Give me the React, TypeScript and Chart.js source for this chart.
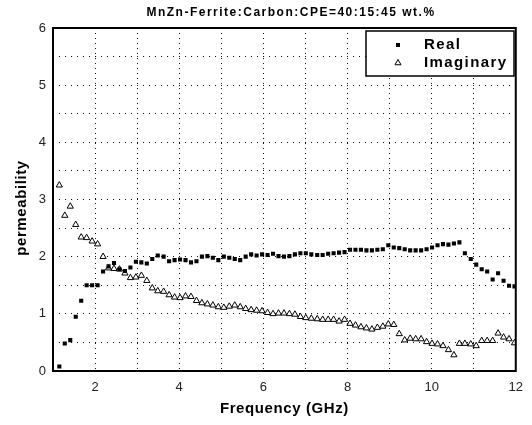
import { useEffect, useRef } from 'react';
import { Chart, registerables } from 'chart.js';

Chart.register(...registerables);

const TITLE = 'MnZn-Ferrite:Carbon:CPE=40:15:45 wt.%';
const X_TITLE = 'Frequency (GHz)';
const Y_TITLE = 'permeability';
const SERIES_NAMES = ['Real', 'Imaginary'];

const frequency = [
  1.15, 1.28, 1.41, 1.54, 1.67, 1.8, 1.93, 2.06, 2.19, 2.32,
  2.45, 2.58, 2.71, 2.84, 2.97, 3.1, 3.23, 3.36, 3.49, 3.63,
  3.76, 3.89, 4.02, 4.15, 4.28, 4.41, 4.54, 4.67, 4.8, 4.93,
  5.06, 5.19, 5.32, 5.45, 5.58, 5.71, 5.84, 5.97, 6.1, 6.23,
  6.36, 6.49, 6.62, 6.75, 6.88, 7.01, 7.14, 7.28, 7.41, 7.54,
  7.67, 7.8, 7.93, 8.06, 8.19, 8.32, 8.45, 8.58, 8.71, 8.84,
  8.97, 9.1, 9.23, 9.36, 9.49, 9.62, 9.75, 9.88, 10.01, 10.14,
  10.27, 10.4, 10.53, 10.66, 10.79, 10.93, 11.06, 11.19, 11.32, 11.45,
  11.58, 11.71, 11.84, 11.97,
];

const realPerm = [
  0.08, 0.48, 0.54, 0.95, 1.23, 1.5, 1.5, 1.5, 1.74, 1.83,
  1.89, 1.78, 1.75, 1.81, 1.91, 1.9, 1.88, 1.96, 2.02, 2.0,
  1.92, 1.94, 1.95, 1.94, 1.9, 1.92, 2.0, 2.01, 1.98,
  1.94, 2.0, 1.98, 1.96, 1.94, 2.0, 2.04, 2.02, 2.04, 2.03,
  2.05, 2.01, 2.0, 2.01, 2.04, 2.06, 2.06, 2.04, 2.03, 2.03,
  2.05, 2.06, 2.07, 2.08, 2.12, 2.12, 2.12, 2.11, 2.11,
  2.12, 2.13, 2.2, 2.16, 2.15, 2.13, 2.11, 2.11, 2.11, 2.13,
  2.16, 2.2, 2.22, 2.21, 2.23, 2.25, 2.06, 1.96, 1.86, 1.78,
  1.74, 1.6, 1.71, 1.58, 1.49, 1.48,
];

const imagPerm = [
  3.25, 2.72, 2.88, 2.56, 2.34, 2.33, 2.27, 2.22, 2.0, 1.8,
  1.79, 1.78, 1.71, 1.63, 1.64, 1.67, 1.58, 1.45, 1.4, 1.39,
  1.33, 1.29, 1.28, 1.31, 1.3, 1.23, 1.19, 1.17, 1.15,
  1.12, 1.11, 1.13, 1.15, 1.12, 1.09, 1.07, 1.06, 1.05, 1.02,
  1.0, 1.01, 1.01, 1.0, 0.99, 0.95, 0.93, 0.92, 0.91, 0.9,
  0.9, 0.9, 0.87, 0.9, 0.83, 0.8, 0.77, 0.75, 0.73,
  0.76, 0.78, 0.82, 0.81, 0.65, 0.54, 0.57, 0.56, 0.56, 0.51,
  0.48, 0.47, 0.44, 0.37, 0.28, 0.48, 0.48, 0.47, 0.44, 0.53,
  0.53, 0.53, 0.66, 0.59, 0.56, 0.49,
];

const X_MIN = 1;
const X_MAX = 12;
const Y_MIN = 0;
const Y_MAX = 6;
const xLabelTicks = [2, 4, 6, 8, 10, 12];
const yLabelTicks = [0, 1, 2, 3, 4, 5, 6];

const FONT = '"Liberation Sans", Arial, sans-serif';

function drawSquare(ctx: CanvasRenderingContext2D, x: number, y: number, s: number) {
  ctx.fillStyle = '#000';
  ctx.fillRect(x - s / 2, y - s / 2, s, s);
}

function drawTriangle(ctx: CanvasRenderingContext2D, x: number, y: number, r: number) {
  ctx.beginPath();
  ctx.moveTo(x, y - r);
  ctx.lineTo(x + r * 0.866, y + r * 0.5);
  ctx.lineTo(x - r * 0.866, y + r * 0.5);
  ctx.closePath();
  ctx.fillStyle = '#fff';
  ctx.fill();
  ctx.strokeStyle = '#000';
  ctx.lineWidth = 1;
  ctx.stroke();
}

const decorPlugin = {
  id: 'decor',
  afterDraw(chart: any) {
    const ctx: any = chart.ctx;
    const a = chart.chartArea;
    ctx.save();
    // frame
    ctx.strokeStyle = '#000';
    ctx.lineWidth = 2;
    ctx.strokeRect(a.left, a.top, a.right - a.left, a.bottom - a.top);

    // title
    ctx.fillStyle = '#000';
    ctx.textAlign = 'center';
    ctx.textBaseline = 'middle';
    ctx.font = `bold 12px ${FONT}`;
    ctx.letterSpacing = '1.5px';
    ctx.fillText(TITLE, 291, 13);

    // x title
    ctx.font = `bold 15px ${FONT}`;
    ctx.letterSpacing = '0.6px';
    ctx.fillText(X_TITLE, (a.left + a.right) / 2, 409);

    // y title
    ctx.save();
    ctx.translate(22, 208);
    ctx.rotate(-Math.PI / 2);
    ctx.fillText(Y_TITLE, 0, 0);
    ctx.restore();

    // legend
    const lx = 366, ly = 31, lw = 148, lh = 45;
    ctx.fillStyle = '#fff';
    ctx.fillRect(lx, ly, lw, lh);
    ctx.strokeStyle = '#000';
    ctx.lineWidth = 1.5;
    ctx.strokeRect(lx, ly, lw, lh);
    ctx.textAlign = 'left';
    ctx.fillStyle = '#000';
    ctx.font = `bold 15px ${FONT}`;
    ctx.letterSpacing = '1.4px';
    drawSquare(ctx, 398, 45, 4);
    ctx.fillStyle = '#000';
    ctx.fillText(SERIES_NAMES[0], 424, 45);
    drawTriangle(ctx, 398, 63, 3.5);
    ctx.fillStyle = '#000';
    ctx.fillText(SERIES_NAMES[1], 424, 63);
    ctx.letterSpacing = '0px';
    ctx.restore();
  },
};

export default function App() {
  const ref = useRef<HTMLCanvasElement | null>(null);

  useEffect(() => {
    document.body.style.margin = '0';
    const canvas = ref.current;
    if (!canvas) return;
    const chart = new Chart(canvas, {
      type: 'scatter',
      data: {
        datasets: [
          {
            label: SERIES_NAMES[0],
            data: frequency.map((f, i) => ({ x: f, y: realPerm[i] })),
            pointStyle: 'rect',
            pointRadius: 2.9,
            backgroundColor: '#000',
            borderColor: '#000',
            borderWidth: 0,
            showLine: false,
          },
          {
            label: SERIES_NAMES[1],
            data: frequency.map((f, i) => ({ x: f, y: imagPerm[i] })),
            pointStyle: 'triangle',
            pointRadius: 3.6,
            backgroundColor: '#fff',
            borderColor: '#000',
            borderWidth: 1,
            showLine: false,
          },
        ],
      },
      options: {
        responsive: false,
        animation: false,
        layout: { padding: { top: 28, right: 11, left: 0, bottom: 0 } },
        plugins: {
          legend: { display: false },
          title: { display: false },
          tooltip: { enabled: false },
        },
        scales: {
          x: {
            type: 'linear',
            min: X_MIN,
            max: X_MAX,
            afterFit: (s: any) => { s.height = 54; },
            afterBuildTicks: (s: any) => {
              const t = [];
              for (let v = X_MIN; v <= X_MAX; v += 1) t.push({ value: v });
              s.ticks = t;
            },
            ticks: {
              autoSkip: false,
              maxRotation: 0,
              padding: 9,
              color: '#222',
              font: { family: FONT, size: 13 },
              callback: (v: any) => (xLabelTicks.includes(Number(v)) ? String(v) : ''),
            },
            grid: { color: '#111', lineWidth: 1, drawTicks: false },
            border: { display: false, dash: [1, 4] },
          },
          y: {
            type: 'linear',
            min: Y_MIN,
            max: Y_MAX,
            afterFit: (s: any) => { s.width = 53; },
            afterBuildTicks: (s: any) => {
              const t = [];
              for (let v = Y_MIN; v <= Y_MAX + 1e-9; v += 0.5) t.push({ value: v });
              s.ticks = t;
            },
            ticks: {
              autoSkip: false,
              padding: 7,
              color: '#222',
              font: { family: FONT, size: 13 },
              callback: (v: any) => (yLabelTicks.includes(Number(v)) ? String(v) : ''),
            },
            grid: { color: '#111', lineWidth: 1, drawTicks: false },
            border: { display: false, dash: [1, 5] },
          },
        },
      },
      plugins: [decorPlugin],
    } as any);
    return () => chart.destroy();
  }, []);

  return (
    <div style={{ width: 532, height: 425 }}>
      <canvas ref={ref} width={532} height={425} />
    </div>
  );
}
